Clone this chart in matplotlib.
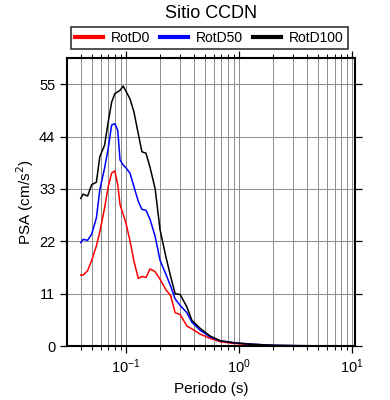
import matplotlib
matplotlib.use("Agg")
import matplotlib.pyplot as plt
from matplotlib.ticker import LogLocator, FixedLocator, NullFormatter

plt.rcParams['font.family'] = ['Liberation Sans', 'DejaVu Sans']

# datos
periodo = [0.040, 0.042, 0.046, 0.050, 0.055, 0.059, 0.065, 0.070, 0.075, 0.080,
           0.085, 0.089, 0.095, 0.100, 0.109, 0.118, 0.129, 0.139, 0.151, 0.164,
           0.182, 0.201, 0.227, 0.250, 0.273, 0.303, 0.347, 0.384, 0.455, 0.557,
           0.684, 0.891, 1.26, 2.0, 3.0, 5.0, 10.0]
rotd0 = [14.9, 14.9, 15.8, 18.0, 21.0, 24.0, 29.0, 33.5, 36.3, 36.8,
         33.9, 29.7, 27.6, 26.0, 22.1, 17.9, 14.2, 14.6, 14.4, 16.2,
         15.6, 14.0, 11.8, 10.5, 7.0, 6.6, 4.2, 3.6, 2.5, 1.6,
         0.9, 0.55, 0.3, 0.1, 0.06, 0.03, 0.02]
rotd50 = [21.7, 22.4, 22.2, 23.5, 26.9, 32.8, 37.4, 41.5, 46.4, 46.7,
          45.3, 39.1, 38.0, 37.5, 36.3, 33.5, 30.4, 28.7, 28.5, 26.6,
          23.0, 18.0, 15.0, 12.5, 9.9, 8.5, 7.0, 5.0, 3.3, 1.9,
          1.1, 0.7, 0.4, 0.15, 0.08, 0.04, 0.02]
rotd100 = [31.0, 31.9, 31.5, 33.9, 34.4, 39.8, 42.2, 47.1, 51.2, 53.0,
           53.4, 53.7, 54.6, 53.6, 51.9, 49.2, 44.6, 40.8, 40.5, 37.5,
           33.0, 24.4, 18.6, 14.5, 11.0, 10.8, 8.2, 5.4, 3.7, 2.1,
           1.1, 0.7, 0.4, 0.15, 0.08, 0.04, 0.02]
yticks = [0, 11, 22, 33, 44, 55]

fig = plt.figure(figsize=(3.9, 4.0), dpi=100)
ax = fig.add_axes([0.172, 0.135, 0.738, 0.72])

ax.plot(periodo, rotd0, color='red', lw=1.1, label='RotD0')
ax.plot(periodo, rotd50, color='blue', lw=1.1, label='RotD50')
ax.plot(periodo, rotd100, color='black', lw=1.1, label='RotD100')

ax.set_xscale('log')
ax.set_xlim(0.0303, 10.6)
ax.set_ylim(0, 60.5)
ax.yaxis.set_major_locator(FixedLocator(yticks))
ax.xaxis.set_major_locator(LogLocator(base=10))
ax.xaxis.set_minor_locator(LogLocator(base=10, subs=range(2, 10)))
ax.xaxis.set_minor_formatter(NullFormatter())

ax.grid(True, which='both', axis='x', color='#8c8c8c', lw=0.7)
ax.grid(True, which='major', axis='y', color='#8c8c8c', lw=0.7)
ax.set_axisbelow(True)

for s in ax.spines.values():
    s.set_linewidth(1.5)
ax.tick_params(which='both', direction='out', top=True, right=True, labelsize=10.5)
ax.tick_params(which='major', length=5, width=0.9)
ax.tick_params(which='minor', length=3, width=0.7)

ax.set_xlabel('Periodo (s)', fontsize=11)
ax.set_ylabel('PSA (cm/s$^2$)', fontsize=11, labelpad=2)

leg = ax.legend(loc='lower center', bbox_to_anchor=(0.495, 1.03), ncol=3,
                frameon=True, fancybox=False, fontsize=10, handlelength=2,
                columnspacing=0.7, handletextpad=0.6, borderpad=0.3,
                borderaxespad=0)
leg.get_frame().set_edgecolor('black')
leg.get_frame().set_linewidth(1.2)
for l in leg.get_lines():
    l.set_linewidth(3)

fig.text(0.54, 0.965, 'Sitio CCDN', ha='center', va='center', fontsize=13)

fig.savefig('out.png', dpi=100)
